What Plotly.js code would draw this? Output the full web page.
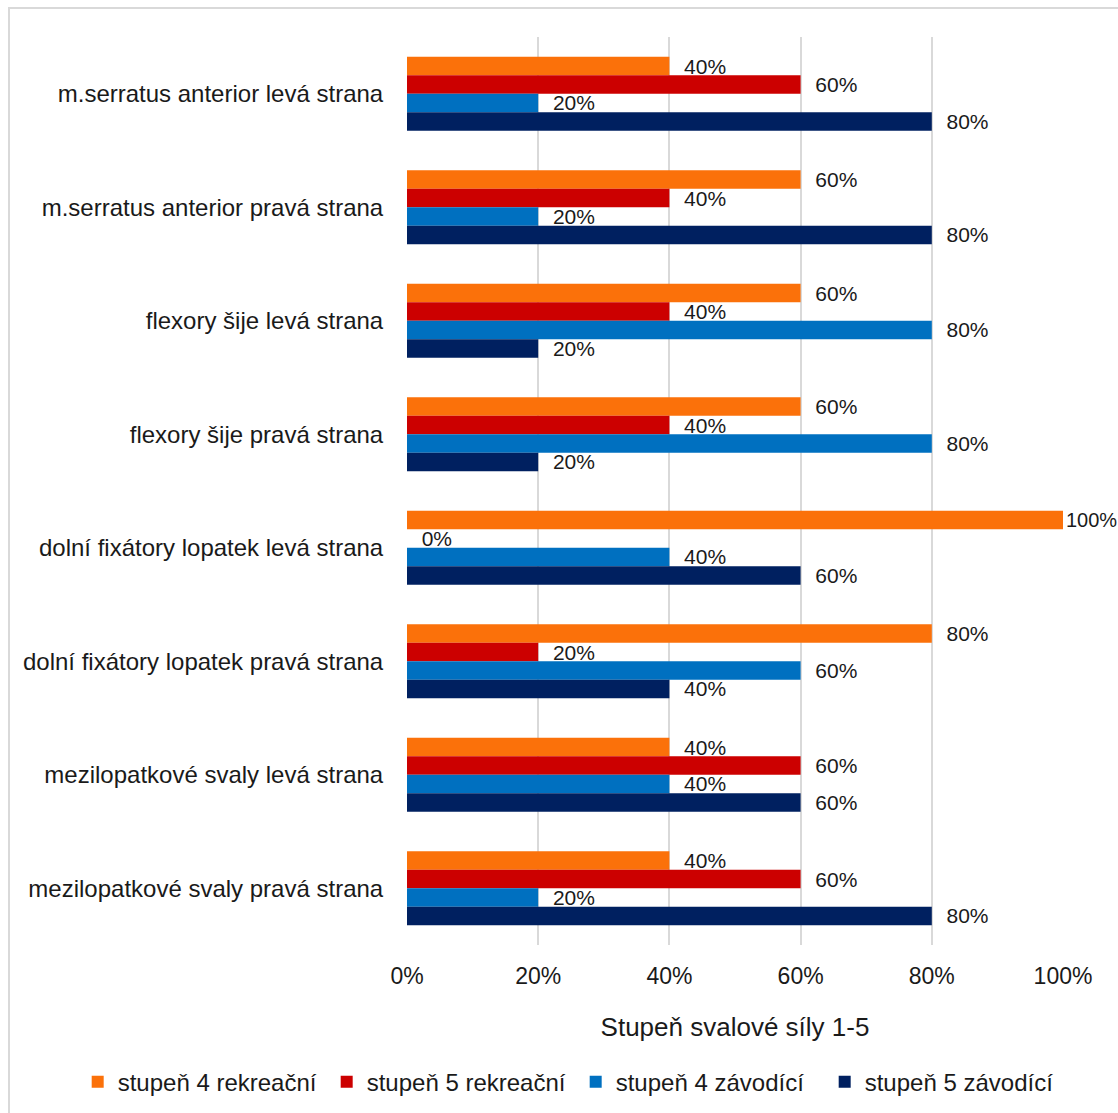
<!DOCTYPE html>
<html>
<head>
<meta charset="utf-8">
<script src="https://cdn.plot.ly/plotly-3.0.1.min.js"></script>
<style>
html,body{margin:0;padding:0;overflow:hidden;background:#fff;}
#wrap{position:relative;width:1118px;height:1113px;}
#chart{position:absolute;left:0;top:0;width:1118px;height:1113px;}
#frame{position:absolute;left:8px;top:7px;width:1200px;height:1200px;border:2px solid #d9d9d9;box-sizing:border-box;pointer-events:none;}
</style>
</head>
<body>
<div id="wrap"><div id="chart"></div><div id="frame"></div></div>
<script>
const categories = [
  "m.serratus anterior levá strana",
  "m.serratus anterior pravá strana",
  "flexory šije levá strana",
  "flexory šije pravá strana",
  "dolní fixátory lopatek levá strana",
  "dolní fixátory lopatek pravá strana",
  "mezilopatkové svaly levá strana",
  "mezilopatkové svaly pravá strana"
];
const seriesNames = ["stupeň 4 rekreační", "stupeň 5 rekreační", "stupeň 4 závodící", "stupeň 5 závodící"];
const stupen4Rekreacni = [40, 60, 60, 60, 100, 80, 40, 40];
const stupen5Rekreacni = [60, 40, 40, 40, 0, 20, 60, 60];
const stupen4Zavodici  = [20, 20, 80, 80, 40, 60, 40, 20];
const stupen5Zavodici  = [80, 80, 20, 20, 60, 40, 60, 80];
const xTickVals = [0, 20, 40, 60, 80, 100];
const xTickText = ["0%", "20%", "40%", "60%", "80%", "100%"];
const colors = ["#fb710a", "#cc0000", "#0070c0", "#002060"];

const allValues = [stupen4Rekreacni, stupen5Rekreacni, stupen4Zavodici, stupen5Zavodici];
const font = "Liberation Sans, Arial, sans-serif";

const traces = allValues.map((vals, i) => ({
  type: "bar",
  orientation: "h",
  name: seriesNames[i],
  y: categories,
  x: vals,
  marker: {color: colors[i]},
  text: vals.map(v => (v >= 100 ? "" : "  ") + v + "%"),
  textposition: "outside",
  constraintext: "none",
  cliponaxis: false,
  textfont: {family: font, size: vals.map(v => v >= 100 ? 20 : 21), color: "#1a1a1a"},
  hoverinfo: "x+name"
}));

const layout = {
  width: 1118,
  height: 1113,
  margin: {l: 407, r: 55, t: 37, b: 168, autoexpand: false},
  paper_bgcolor: "rgba(0,0,0,0)",
  plot_bgcolor: "#fff",
  barmode: "group",
  bargap: 0.35,
  bargroupgap: 0,
  font: {family: font, color: "#1a1a1a"},
  showlegend: true,
  legend: {
    orientation: "h",
    x: -0.502, xanchor: "left",
    y: -0.151, yanchor: "middle",
    font: {family: font, size: 24, color: "#1a1a1a"},
    itemwidth: 30,
    entrywidth: 204,
    traceorder: "normal"
  },
  xaxis: {
    range: [0, 100],
    tickvals: xTickVals,
    ticktext: xTickText,
    showgrid: true,
    gridcolor: "#d9d9d9",
    gridwidth: 2,
    zeroline: false,
    showline: false,
    ticks: "outside",
    ticklen: 10,
    tickcolor: "rgba(0,0,0,0)",
    tickfont: {family: font, size: 23, color: "#1a1a1a"},
    title: {text: "Stupeň svalové síly 1-5", font: {family: font, size: 26, color: "#1a1a1a"}, standoff: 30},
    fixedrange: true
  },
  yaxis: {
    type: "category",
    autorange: "reversed",
    showgrid: false,
    zeroline: false,
    showline: false,
    ticks: "outside",
    ticklen: 18,
    tickcolor: "rgba(0,0,0,0)",
    tickfont: {family: font, size: 24, color: "#1a1a1a"},
    fixedrange: true
  }
};

Plotly.newPlot("chart", traces, layout, {displayModeBar: false, staticPlot: true});
</script>
</body>
</html>
